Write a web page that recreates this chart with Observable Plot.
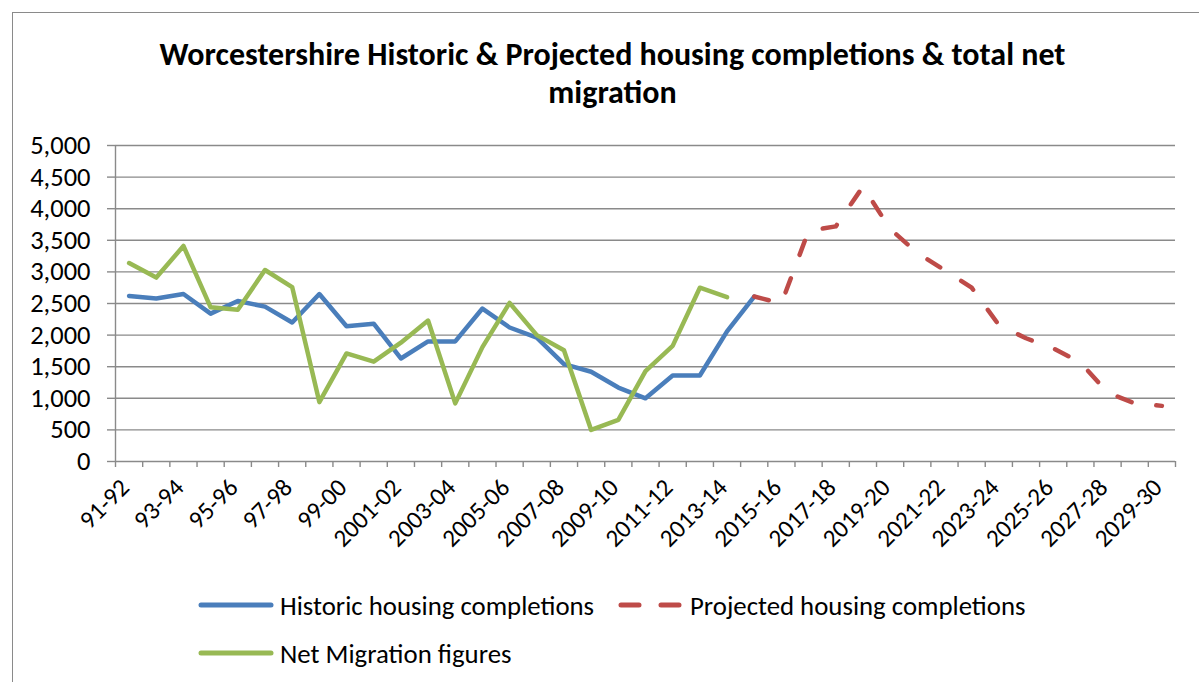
<!DOCTYPE html>
<html>
<head>
<meta charset="utf-8">
<script src="https://cdn.jsdelivr.net/npm/d3@7"></script>
<script src="https://cdn.jsdelivr.net/npm/@observablehq/plot@0.6"></script>
<style>
  html, body { margin: 0; padding: 0; background: #fff; }
  #wrap { position: relative; width: 1199px; height: 682px; overflow: hidden; font-family: Carlito, Lato, sans-serif; color: #000; }
  #border { position: absolute; left: 12px; top: 12px; width: 1300px; height: 800px; border: 1.3px solid #8a8a8a; box-sizing: border-box; }
  #title { position: absolute; left: 0; width: 1225px; top: 36px; text-align: center; font-weight: bold; font-size: 32px; line-height: 38px; }
  #chart { position: absolute; left: 0; top: 130px; }
  .leg { position: absolute; display: flex; align-items: center; font-size: 26.8px; white-space: nowrap; }
  .leg svg { margin-right: 6px; }
</style>
</head>
<body>
<div id="wrap">
  <div id="border"></div>
  <div id="title">Worcestershire Historic &amp; Projected housing completions &amp; total net<br>migration</div>
  <div id="chart"></div>
  <div id="legend"></div>
</div>
<script>
// Categories (financial years)
const categories = [
  "91-92","92-93","93-94","94-95","95-96","96-97","97-98","98-99","99-00",
  "2000-01","2001-02","2002-03","2003-04","2004-05","2005-06","2006-07","2007-08",
  "2008-09","2009-10","2010-11","2011-12","2012-13","2013-14","2014-15","2015-16",
  "2016-17","2017-18","2018-19","2019-20","2020-21","2021-22","2022-23","2023-24",
  "2024-25","2025-26","2026-27","2027-28","2028-29","2029-30"
];

// Historic housing completions: 91-92 .. 2014-15
const historic = [2620, 2580, 2650, 2340, 2540, 2450, 2200, 2650, 2140, 2180,
  1630, 1900, 1900, 2420, 2120, 1960, 1540, 1420, 1170, 1000, 1360, 1360, 2060, 2610];

// Projected housing completions: 2014-15 .. 2029-30
const projectedStart = "2014-15";
const projected = [2610, 2500, 3650, 3720, 4350, 3680, 3300, 3030, 2750, 2160,
  1950, 1790, 1570, 1090, 920, 880];

// Net migration figures: 91-92 .. 2013-14
const migration = [3140, 2910, 3410, 2440, 2400, 3030, 2760, 940, 1710, 1580,
  1880, 2230, 920, 1810, 2510, 2000, 1760, 500, 660, 1430, 1830, 2750, 2600];

const yTicks = [0, 500, 1000, 1500, 2000, 2500, 3000, 3500, 4000, 4500, 5000];

const colors = { historic: "#4a7ebb", projected: "#be4b48", migration: "#98b954" };

const p0 = categories.indexOf(projectedStart);
const histData = historic.map((v, i) => ({ i, v }));
const projData = projected.map((v, k) => ({ i: p0 + k, v }));
const migData = migration.map((v, i) => ({ i, v }));
const bounds = d3.range(categories.length + 1).map(k => k - 0.5);
const labelIdx = d3.range(0, categories.length, 2);

const gridColor = "#8a8a8a";

const chart = Plot.plot({
  width: 1199,
  height: 431,
  marginLeft: 115,
  marginRight: 24,
  marginTop: 15,
  marginBottom: 100,
  style: { fontFamily: "Carlito, Lato, sans-serif", fontSize: "26px", color: "#000", background: "transparent", overflow: "visible" },
  x: { type: "linear", domain: [-0.5, categories.length - 0.5] },
  y: { domain: [0, 5000] },
  marks: [
    Plot.ruleY(yTicks, { stroke: gridColor, strokeWidth: 1.4, strokeOpacity: 1 }),
    Plot.ruleX([-0.5], { y1: 0, y2: 5000, stroke: gridColor, strokeWidth: 1.4 }),
    Plot.axisY({ ticks: yTicks, tickSize: 8, tickPadding: 17, tickFormat: d3.format(","), stroke: gridColor, strokeWidth: 1.4, strokeOpacity: 1, label: null, fontSize: 26.5 }),
    Plot.axisX({ ticks: bounds, tickSize: 6, tickFormat: () => "", stroke: gridColor, strokeWidth: 1.4, strokeOpacity: 1, label: null }),
    Plot.axisX({ ticks: labelIdx, tickSize: 0, tickFormat: i => categories[i], tickRotate: -45, textAnchor: "end", dx: -4, dy: 10, label: null, fontSize: 25 }),
    Plot.lineY(histData, { x: "i", y: "v", stroke: colors.historic, strokeWidth: 4.5, strokeLinejoin: "round", strokeLinecap: "round" }),
    Plot.lineY(migData, { x: "i", y: "v", stroke: colors.migration, strokeWidth: 4.5, strokeLinejoin: "round", strokeLinecap: "round" }),
    Plot.lineY(projData, { x: "i", y: "v", stroke: colors.projected, strokeWidth: 4.5, strokeLinejoin: "round", strokeLinecap: "round", strokeDasharray: "15,25" })
  ]
});
document.getElementById("chart").appendChild(chart);

// Legend
const legendItems = [
  { label: "Historic housing completions", color: colors.historic, dash: null, left: 198, top: 605 },
  { label: "Projected housing completions", color: colors.projected, dash: "18,22", left: 618, top: 605 },
  { label: "Net Migration figures", color: colors.migration, dash: null, left: 198, top: 653 }
];
const legend = document.getElementById("legend");
for (const it of legendItems) {
  const div = document.createElement("div");
  div.className = "leg";
  div.style.left = it.left + "px";
  div.style.top = (it.top - 16) + "px";
  div.style.height = "32px";
  const w = it.dash ? 66 : 76;
  div.innerHTML = `<svg width="${w}" height="10"><line x1="3" x2="${w - 3}" y1="5" y2="5" stroke="${it.color}" stroke-width="5" stroke-linecap="round" ${it.dash ? `stroke-dasharray="${it.dash}"` : ""}/></svg><span>${it.label}</span>`;
  legend.appendChild(div);
}
</script>
</body>
</html>
